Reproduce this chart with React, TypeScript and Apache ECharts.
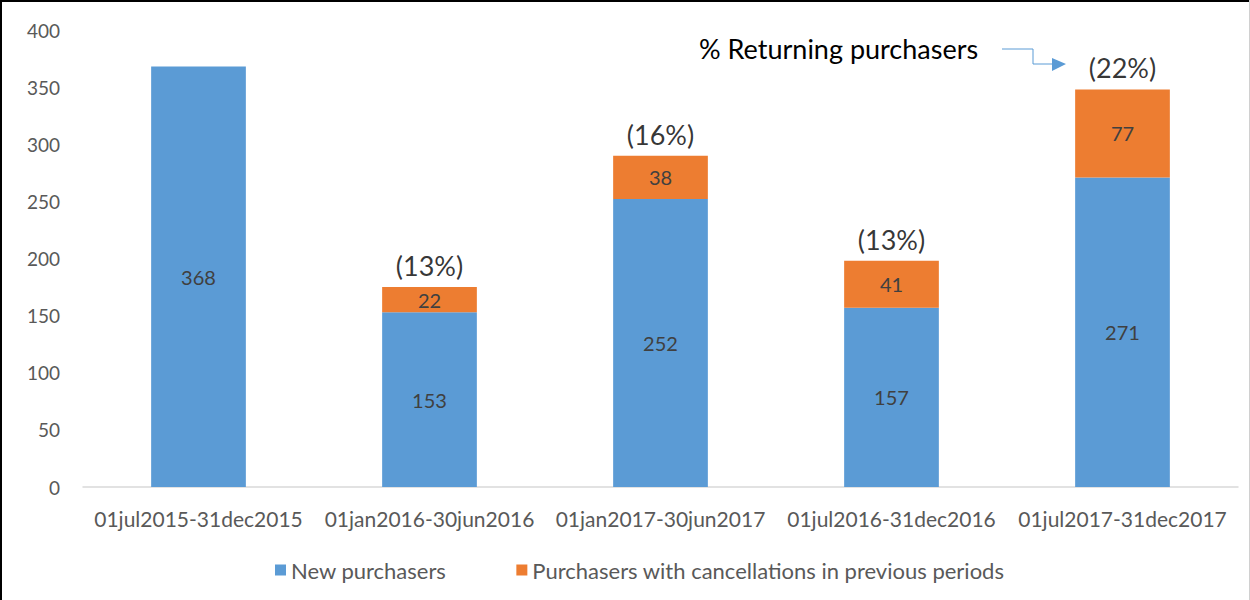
import React, { useEffect, useRef } from "react";
import * as echarts from "echarts";

const categories = [
  "01jul2015-31dec2015",
  "01jan2016-30jun2016",
  "01jan2017-30jun2017",
  "01jul2016-31dec2016",
  "01jul2017-31dec2017",
];
const newPurchasers = [368, 153, 252, 157, 271];
const returningPurchasers = [null, 22, 38, 41, 77];
const returningPctLabels = ["", "(13%)", "(16%)", "(13%)", "(22%)"];
const yTicks = { min: 0, max: 400, interval: 50 };

const FONT = "Lato, 'Open Sans', sans-serif";

export default function App() {
  const ref = useRef<HTMLDivElement>(null);
  useEffect(() => {
    if (!ref.current) return;
    const chart = echarts.init(ref.current, null, { renderer: "svg" });
    const totals = newPurchasers.map((v, i) => v + (returningPurchasers[i] ?? 0));
    chart.setOption({
      animation: false,
      textStyle: { fontFamily: FONT },
      grid: { left: 83, right: 12, top: 30, bottom: 113, containLabel: false },
      legend: {
        left: 270,
        top: 554,
        itemWidth: 11,
        itemHeight: 11,
        itemGap: 70,
        icon: "rect",
        textStyle: { fontSize: 22, color: "#595959", fontFamily: FONT },
        data: ["New purchasers", "Purchasers with cancellations in previous periods"],
      },
      xAxis: {
        type: "category",
        data: categories,
        axisLine: { lineStyle: { color: "#d9d9d9", width: 1.5 } },
        axisTick: { show: false },
        axisLabel: { color: "#595959", fontSize: 21, margin: 21, interval: 0, fontFamily: FONT },
      },
      yAxis: {
        type: "value",
        min: yTicks.min,
        max: yTicks.max,
        interval: yTicks.interval,
        splitLine: { show: false },
        axisLine: { show: false },
        axisTick: { show: false },
        axisLabel: { color: "#595959", fontSize: 19, margin: 23, fontFamily: FONT },
      },
      series: [
        {
          name: "New purchasers",
          type: "bar",
          stack: "total",
          barWidth: "41%",
          itemStyle: { color: "#5b9bd5" },
          label: { show: true, position: "inside", color: "#404040", fontSize: 20, fontFamily: FONT },
          data: newPurchasers,
        },
        {
          name: "Purchasers with cancellations in previous periods",
          type: "bar",
          stack: "total",
          barWidth: "41%",
          itemStyle: { color: "#ed7d31" },
          label: { show: true, position: "inside", color: "#404040", fontSize: 20, fontFamily: FONT },
          data: returningPurchasers,
        },
        {
          name: "pct",
          type: "scatter",
          symbolSize: 0,
          silent: true,
          label: {
            show: true,
            position: "top",
            distance: 8,
            color: "#000",
            fontSize: 27,
            fontFamily: FONT,
            formatter: (p: any) => returningPctLabels[p.dataIndex],
          },
          data: totals.map((t, i) => (returningPctLabels[i] ? t : null)),
        },
      ],
      graphic: [
        { type: "line", shape: { x1: 1, y1: 0, x2: 1, y2: 600 }, style: { stroke: "#000", lineWidth: 2 } },
        { type: "line", shape: { x1: 0, y1: 1, x2: 1250, y2: 1 }, style: { stroke: "#000", lineWidth: 2 } },
        { type: "line", shape: { x1: 1249.5, y1: 0, x2: 1249.5, y2: 600 }, style: { stroke: "#d0d0d0", lineWidth: 1 } },
        {
          type: "text",
          x: 699,
          y: 48,
          style: {
            text: "% Returning purchasers",
            fontSize: 27,
            fill: "#000",
            fontFamily: FONT,
            verticalAlign: "middle",
          },
        },
        {
          type: "polyline",
          shape: { points: [[1002, 49], [1033, 49], [1033, 64], [1054, 64]] },
          style: { stroke: "#5b9bd5", lineWidth: 1, fill: "none" },
        },
        {
          type: "polygon",
          shape: { points: [[1052, 58], [1066, 64], [1052, 71]] },
          style: { fill: "#5b9bd5" },
        },
      ],
    });
    return () => chart.dispose();
  }, []);
  return (
    <div
      ref={ref}
      style={{ position: "fixed", left: 0, top: 0, width: 1250, height: 600, background: "#fff" }}
    />
  );
}
